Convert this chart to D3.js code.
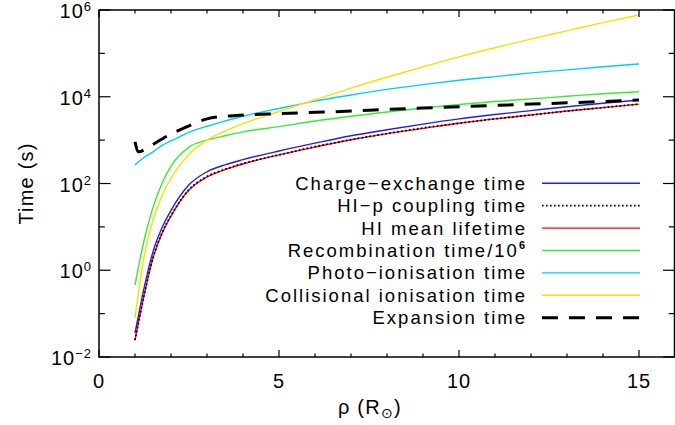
<!DOCTYPE html>
<html>
<head>
<meta charset="utf-8">
<script src="https://cdn.jsdelivr.net/npm/d3@7"></script>
<style>
  body { margin: 0; background: #fff; }
  text { font-family: "Liberation Sans", Arial, sans-serif; fill: #000; }
</style>
</head>
<body>
<svg id="chart" width="675" height="425"></svg>
<script>
// Distance from Sun centre (R_sun) used by most curves
const rho = [1, 1.25, 1.5, 1.75, 2, 2.5, 3, 3.5, 4, 5, 6, 7, 8, 9, 10, 11, 12, 13, 14, 15];

// log10 of the time (s)
const chargeExchange = [-1.45, -0.42, 0.43, 0.98, 1.38, 1.97, 2.27, 2.43, 2.55, 2.75, 2.93, 3.10, 3.24, 3.37, 3.49, 3.59, 3.68, 3.77, 3.85, 3.925];
const hipCoupling    = [-1.61, -0.58, 0.29, 0.86, 1.26, 1.86, 2.16, 2.33, 2.46, 2.66, 2.85, 3.01, 3.15, 3.28, 3.39, 3.49, 3.58, 3.67, 3.75, 3.83];
const hiLifetime     = [-1.61, -0.59, 0.28, 0.85, 1.25, 1.85, 2.15, 2.32, 2.45, 2.66, 2.84, 3.01, 3.15, 3.27, 3.39, 3.49, 3.58, 3.67, 3.75, 3.83];
const recombination  = [-0.34, 0.68, 1.45, 2.00, 2.40, 2.84, 3.00, 3.10, 3.19, 3.31, 3.44, 3.55, 3.65, 3.74, 3.82, 3.89, 3.95, 4.01, 4.07, 4.117];
const photoIon       = [2.43, 2.60, 2.73, 2.88, 2.98, 3.18, 3.32, 3.44, 3.55, 3.73, 3.90, 4.04, 4.17, 4.28, 4.38, 4.465, 4.55, 4.62, 4.69, 4.755];
const collisional    = [-1.10, 0.30, 1.15, 1.72, 2.12, 2.67, 3.00, 3.21, 3.38, 3.66, 3.93, 4.20, 4.45, 4.69, 4.92, 5.13, 5.33, 5.52, 5.71, 5.885];

// Expansion time has its own grid
const expRho    = [1, 1.1, 1.3, 1.5, 2, 2.5, 3, 3.5, 4, 5, 6, 7, 8, 9, 10, 11, 12, 13, 14, 15];
const expansion = [2.96, 2.73, 2.80, 2.90, 3.14, 3.33, 3.49, 3.55, 3.58, 3.61, 3.64, 3.67, 3.71, 3.74, 3.77, 3.80, 3.83, 3.86, 3.89, 3.925];

const legendLabels = ['Charge\u2212exchange time', 'HI\u2212p coupling time', 'HI mean lifetime',
  'Recombination time/10', 'Photo\u2212ionisation time', 'Collisional ionisation time', 'Expansion time'];
const xTickValues = [0, 5, 10, 15];
const yTickExps = [-2, 0, 2, 4, 6];

const svg = d3.select('#chart');
const margin = { top: 10, right: 0, bottom: 68, left: 99 };
const W = 675, H = 425;

const x = d3.scaleLinear().domain([0, 16]).range([margin.left, W - margin.right]);
const y = d3.scaleLog().domain([1e-2, 1e6]).range([H - margin.bottom, margin.top]);

const series = [
  { xs: rho, ys: chargeExchange, color: '#2020e0', width: 1.4, dash: null },
  { xs: rho, ys: hiLifetime, color: '#ff0000', width: 1.4, dash: null },
  { xs: rho, ys: hipCoupling, color: '#000', width: 1.8, dash: '1.6,2.4' },
  { xs: rho, ys: recombination, color: '#33ee33', width: 1.4, dash: null },
  { xs: rho, ys: photoIon, color: '#00ccff', width: 1.4, dash: null },
  { xs: rho, ys: collisional, color: '#ffdd00', width: 1.4, dash: null },
  { xs: expRho, ys: expansion, color: '#000', width: 3, dash: '16,11' }
];
// legend order differs from draw order
const legendStyle = [series[0], series[2], series[1], series[3], series[4], series[5], series[6]];

const line = d3.line().x(d => x(d[0])).y(d => y(Math.pow(10, d[1]))).curve(d3.curveMonotoneX);

series.forEach(s => {
  svg.append('path')
    .datum(s.xs.map((v, i) => [v, s.ys[i]]))
    .attr('d', line)
    .attr('fill', 'none')
    .attr('stroke', s.color)
    .attr('stroke-width', s.width)
    .attr('stroke-dasharray', s.dash);
});

// frame
const x0 = x.range()[0], x1 = x.range()[1] - 0.5, y0 = y.range()[0], y1 = y.range()[1];
svg.append('rect')
  .attr('x', x0).attr('y', y1).attr('width', x1 - x0).attr('height', y0 - y1)
  .attr('fill', 'none').attr('stroke', '#000').attr('stroke-width', 1.5);

// x ticks (bottom and top, inward)
const g = svg.append('g').attr('stroke', '#000').attr('stroke-width', 1.2);
d3.range(0, 17).forEach(v => {
  const len = v % 5 === 0 ? 7 : 3.5;
  g.append('line').attr('x1', x(v)).attr('x2', x(v)).attr('y1', y0).attr('y2', y0 - len);
  g.append('line').attr('x1', x(v)).attr('x2', x(v)).attr('y1', y1).attr('y2', y1 + len);
});
// y ticks (left and right)
d3.range(-2, 7).forEach(e => {
  const len = e % 2 === 0 ? 11.5 : 5.8;
  const yy = y(Math.pow(10, e));
  g.append('line').attr('x1', x0).attr('x2', x0 + len).attr('y1', yy).attr('y2', yy);
  g.append('line').attr('x1', x1).attr('x2', x1 - len).attr('y1', yy).attr('y2', yy);
});

// x tick labels
svg.selectAll('.xt').data(xTickValues).enter().append('text')
  .attr('x', d => x(d)).attr('y', y0 + 31)
  .attr('text-anchor', 'middle').attr('font-size', 20).attr('letter-spacing', 1)
  .text(d => d);

// y tick labels
yTickExps.forEach(e => {
  const t = svg.append('text')
    .attr('x', x0 - 7).attr('y', y(Math.pow(10, e)) + 8)
    .attr('text-anchor', 'end').attr('font-size', 20).attr('letter-spacing', 1);
  t.append('tspan').text('10');
  t.append('tspan').attr('dy', -7).attr('font-size', 13).text(e < 0 ? '\u2212' + (-e) : e);
});

// axis titles
svg.append('text')
  .attr('transform', `translate(33,${(y0 + y1) / 2}) rotate(-90)`)
  .attr('text-anchor', 'middle').attr('font-size', 20).attr('letter-spacing', 1.2)
  .text('Time (s)');

const xl = svg.append('text')
  .attr('x', 370).attr('y', 414).attr('text-anchor', 'middle')
  .attr('font-size', 20).attr('letter-spacing', 1.2);
xl.append('tspan').text('\u03c1 (R');
xl.append('tspan').attr('dy', 4).attr('font-size', 14).text('\u2299');
xl.append('tspan').attr('dy', -4).text(')');

// legend
const legY = 183.3, legDy = 22.4;
legendLabels.forEach((lab, i) => {
  const yy = legY + i * legDy;
  const t = svg.append('text')
    .attr('x', 527).attr('y', yy + 6.5).attr('text-anchor', 'end')
    .attr('font-size', 18.5).attr('letter-spacing', 2.0);
  t.append('tspan').text(lab);
  if (i === 3) t.append('tspan').attr('dy', -8).attr('font-size', 11).attr('font-weight', 'bold').text('6');
  const s = legendStyle[i];
  svg.append('line')
    .attr('x1', 542).attr('x2', 640).attr('y1', yy).attr('y2', yy)
    .attr('stroke', s.color).attr('stroke-width', s.width)
    .attr('stroke-dasharray', s.dash);
});
</script>
</body>
</html>
